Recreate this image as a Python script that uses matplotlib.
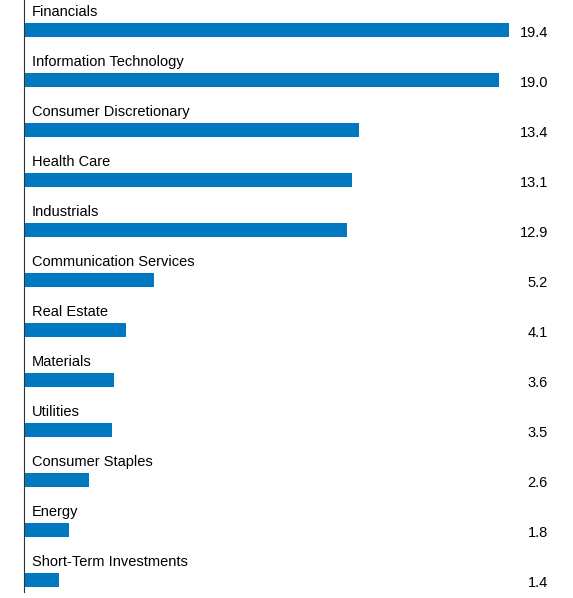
import matplotlib
matplotlib.use("Agg")
import matplotlib.pyplot as plt

categories = ["Financials", "Information Technology", "Consumer Discretionary", "Health Care",
              "Industrials", "Communication Services", "Real Estate", "Materials", "Utilities",
              "Consumer Staples", "Energy", "Short-Term Investments"]
values = [19.4, 19.0, 13.4, 13.1, 12.9, 5.2, 4.1, 3.6, 3.5, 2.6, 1.8, 1.4]
labels = ["19.4", "19.0", "13.4", "13.1", "12.9", "5.2", "4.1", "3.6", "3.5", "2.6", "1.8", "1.4"]

plt.rcParams['font.family'] = ['Liberation Sans', 'DejaVu Sans']
W, H = 573, 598
fig = plt.figure(figsize=(W/100, H/100), dpi=100)
ax = fig.add_axes([24/W, (H-592)/H, (W-24)/W, 592/H])
ax.set_xlim(0, (W-24)/25)
ax.set_ylim(592, 0)
ys = [30 + 50*i for i in range(len(values))]
ax.barh(ys, values, height=14, color="#0079C1")
for y, c, l in zip(ys, categories, labels):
    ax.text(0.3, y-18, c, va="center", ha="left", fontsize=10.5, color="black")
    ax.text((548-24)/25, y+3, l, va="center", ha="right", fontsize=10.5, color="black")
for s in ["top", "right", "bottom"]:
    ax.spines[s].set_visible(False)
ax.spines["left"].set_color("#333333")
ax.set_xticks([]); ax.set_yticks([])
fig.savefig("out.png", dpi=100)
